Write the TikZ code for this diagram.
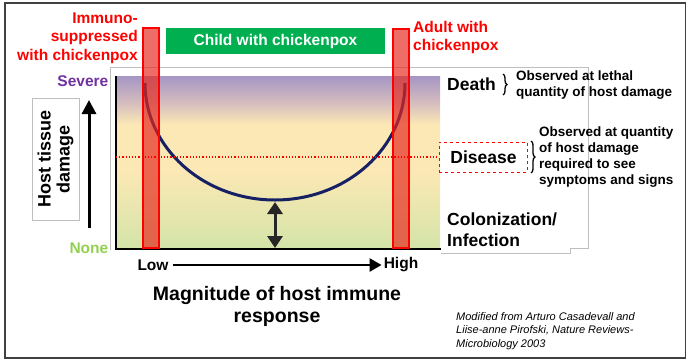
\documentclass[tikz,border=0pt]{standalone}
\usepackage{fontspec}
\setmainfont{Liberation Sans}
\usetikzlibrary{arrows.meta,decorations.pathreplacing}

\definecolor{grnC}{RGB}{211,228,168}
\definecolor{ylwC}{RGB}{251,232,180}
\definecolor{pinkC}{RGB}{215,190,190}
\definecolor{purC}{RGB}{165,150,196}
\definecolor{curveC}{RGB}{22,32,100}
\definecolor{childC}{RGB}{0,176,80}
\definecolor{severeC}{RGB}{112,48,160}
\definecolor{noneC}{RGB}{146,208,80}
\definecolor{arrC}{RGB}{38,38,38}
\definecolor{barC}{RGB}{230,40,30}

\pgfdeclareverticalshading{damage}{100bp}{color(0bp)=(grnC); color(25bp)=(grnC);
  color(47bp)=(ylwC); color(61bp)=(ylwC); color(67bp)=(pinkC); color(75bp)=(purC);
  color(100bp)=(purC)}

\newcommand{\fs}[1]{\fontsize{#1}{1.2\dimexpr#1pt\relax}\selectfont}

\begin{document}
\begin{tikzpicture}[x=1pt, y=-1pt,
  lbl/.style={font=\bfseries\fs{15.5}, inner sep=0pt},
  head/.style={font=\bfseries\fs{17.5}, inner sep=0pt, align=left},
  note/.style={font=\bfseries\fontsize{13.5}{15.5}\selectfont, inner sep=0pt, align=left},
  bar/.style={draw=red, line width=2pt, fill=barC, fill opacity=0.68}]
  \useasboundingbox (0,0) rectangle (687,362);

  % outer frame and grey backdrop
  \draw[line width=1.2pt, black!75] (5,3) rectangle (685.5,358);
  \draw[black!25, line width=0.8pt] (110,250) -- (110,67) -- (588,67) -- (588,248)
    -- (570,248) -- (570,253) -- (441,253);

  % shaded damage area and axes
  \shade[shading=damage] (116,76) rectangle (440,249);
  \coordinate (dotl) at (116,157);
  \draw[line width=2.6pt] (116,76) -- (116,249) -- (441,249);

  % damage curve
  \draw[curveC, line width=3pt] (145,83) arc[start angle=180, end angle=0,
    x radius=130, y radius=117];
  \coordinate (cbot) at (275,202);
  \coordinate (axis) at (275,248);
  \draw[arrC, line width=3pt, {Triangle[width=15pt,length=12pt]}-{Triangle[width=15pt,length=12pt]}]
    (cbot) -- (axis);

  % red bars
  \draw[bar] (143,28) rectangle (159,248);
  \draw[bar] (393,29) rectangle (409,248);

  % labels above
  \node[lbl, text=red, anchor=east, align=right] (immuno) at (138,38)
    {Immuno-\\suppressed\\with chickenpox};
  \node[lbl, text=red, anchor=west, align=left] (adult) at (413,37.5)
    {Adult with\\chickenpox};
  \node[lbl, fill=childC, text=white, minimum width=219pt, minimum height=26pt]
    (child) at (275.5,41) {Child with chickenpox};

  % damage levels
  \node[head, anchor=west] (death) at (447,84) {Death};
  \draw[line width=1.3pt, decorate, decoration={brace, amplitude=4pt}]
    (503,74) -- (503,95);
  \node[note, anchor=west] (lethal) at (516,85)
    {Observed at lethal\\quantity of host damage};

  \node[head, draw=red, dashed, line width=0.9pt, minimum width=88pt,
    minimum height=30pt, inner xsep=6pt, anchor=west] (disease) at (439,157) {Disease};
  \draw[red, dotted, line width=1.2pt] (dotl) -- (disease.west);
  \draw[line width=1.3pt, decorate, decoration={brace, amplitude=4pt}]
    (531,141) -- (531,173);
  \node[note, anchor=west, font=\bfseries\fontsize{13.5}{16}\selectfont] (symptom)
    at (539,157) {Observed at quantity\\of host damage\\required to see\\symptoms and signs};

  \node[head, anchor=west, font=\bfseries\fontsize{17.5}{21}\selectfont] (colon)
    at (447,229.5) {Colonization/\\Infection};

  % y axis
  \node[lbl, text=severeC, anchor=east] (severe) at (108.5,81) {Severe};
  \node[lbl, text=noneC, anchor=east] (none) at (108.5,248) {None};
  \node[draw=black!25, line width=0.8pt, rotate=90, minimum width=122pt,
    minimum height=47pt, inner sep=0pt, align=center,
    font=\bfseries\fontsize{18}{19}\selectfont] (host) at (55.5,159) {Host tissue\\damage};
  \coordinate (ybot) at (89,228);
  \coordinate (ytop) at (89,100);
  \draw[line width=3pt, -{Triangle[width=14pt,length=14pt]}] (ybot) -- (ytop);

  % x axis
  \node[lbl] (low) at (153,265) {Low};
  \node[lbl] (high) at (401,265) {High};
  \draw[line width=2.6pt, -{Triangle[width=13pt,length=12pt]}]
    ([xshift=4pt]low.east) -- ([xshift=-2pt]high.west);
  \node[font=\bfseries\fontsize{19.5}{22}\selectfont, inner sep=0pt, align=center]
    (magn) at (277,306) {Magnitude of host immune\\response};

  % source
  \node[anchor=west, align=left, inner sep=0pt, font=\itshape\fontsize{11}{13.5}\selectfont]
    (source) at (456,331) {Modified from Arturo Casadevall and\\Liise-anne Pirofski, Nature Reviews-\\Microbiology 2003};
\end{tikzpicture}
\end{document}
